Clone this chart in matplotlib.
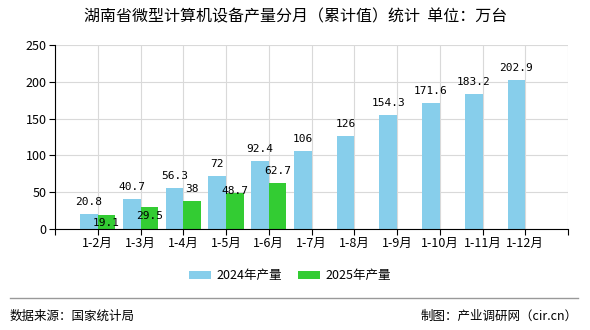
import matplotlib
matplotlib.use("Agg")
import matplotlib.pyplot as plt
import numpy as np

plt.rcParams['font.family'] = ['Noto Sans CJK SC', 'DejaVu Sans']

title = "湖南省微型计算机设备产量分月（累计值）统计  单位：万台"
categories = ["1-2月", "1-3月", "1-4月", "1-5月", "1-6月", "1-7月", "1-8月",
              "1-9月", "1-10月", "1-11月", "1-12月"]
v2024 = [20.8, 40.7, 56.3, 72, 92.4, 106, 126, 154.3, 171.6, 183.2, 202.9]
v2025 = [19.1, 29.5, 38, 48.7, 62.7]
lbl2024 = ["20.8", "40.7", "56.3", "72", "92.4", "106", "126", "154.3", "171.6", "183.2", "202.9"]
lbl2025 = ["19.1", "29.5", "38", "48.7", "62.7"]
series_names = ["2024年产量", "2025年产量"]
yticks = [0, 50, 100, 150, 200, 250]

c2024 = "#87CEEB"
c2025 = "#33CC33"

fig = plt.figure(figsize=(5.9, 3.3), dpi=100)
ax = fig.add_axes([55/590, 1-229/330, 513/590, 184/330])

x = np.arange(1, len(categories) + 1)
w = 0.41
ax.bar(x[:len(v2024)] - w/2, v2024, width=w, color=c2024, zorder=2, label=series_names[0])
ax.bar(x[:len(v2025)] + w/2, v2025, width=w, color=c2025, zorder=2, label=series_names[1])

mono = ['DejaVu Sans Mono']
for xi, v, t in zip(x, v2024, lbl2024):
    ax.annotate(t, (xi - w/2, v), xytext=(0, 5), textcoords="offset points",
                ha="center", va="bottom", fontsize=8, family=mono, zorder=3)
off2025 = [-9.5, -10, 5, -2, 5]
for xi, v, t, o in zip(x, v2025, lbl2025, off2025):
    ax.annotate(t, (xi + w/2, v), xytext=(0, o), textcoords="offset points",
                ha="center", va="bottom", fontsize=8, family=mono, zorder=3)

ax.set_xlim(0, 12)
ax.set_ylim(0, 250)
ax.set_xticks(np.arange(0, 13))
ax.set_xticklabels([""] + categories + [""], fontsize=9)
ax.set_yticks(yticks)
ax.set_yticklabels([str(t) for t in yticks], fontsize=9)
ax.grid(True, color="#d9d9d9", linewidth=0.8, zorder=0)
ax.set_axisbelow(True)
for s in ["top", "right"]:
    ax.spines[s].set_visible(False)
ax.spines["left"].set_color("black")
ax.spines["bottom"].set_color("black")
ax.tick_params(axis="both", length=4, width=0.8, color="black", pad=2)

fig.text(296/590, 1 - 17/330, title, ha="center", va="center", fontsize=11.5)

leg = fig.legend(loc="center", bbox_to_anchor=(290/590, 1 - 276/330), ncol=2, frameon=False,
                 fontsize=9, handlelength=1.76, handleheight=0.65, handletextpad=0.4,
                 columnspacing=1.3)

fig.add_artist(plt.Line2D([10/590, 578/590], [1 - 298/330, 1 - 298/330], color="#999999", linewidth=1))
fig.text(10/590, 1 - 316/330, "数据来源：国家统计局", ha="left", va="center", fontsize=9)
fig.text(578/590, 1 - 316/330, "制图：产业调研网（cir.cn）", ha="right", va="center", fontsize=9)

fig.savefig("out.png", dpi=100)
